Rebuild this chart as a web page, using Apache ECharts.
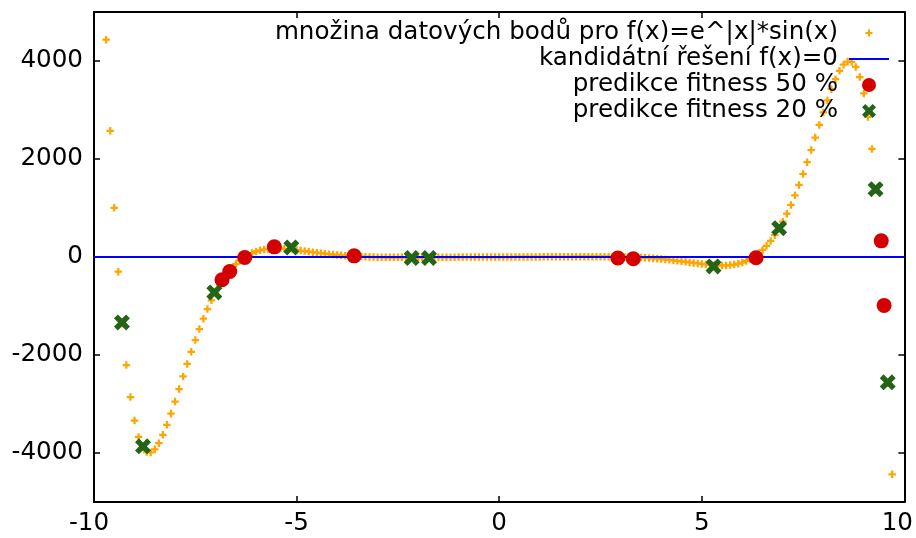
<!DOCTYPE html>
<html>
<head>
<meta charset="utf-8">
<script src="https://cdn.jsdelivr.net/npm/echarts@6/dist/echarts.min.js"></script>
<style>
  html, body { margin: 0; padding: 0; background: #ffffff; }
  #chart { width: 916px; height: 538px; }
</style>
</head>
<body>
<div id="chart"></div>
<script>
// Sampled points of f(x) = e^|x| * sin(x), step 0.1 (points beyond the y range are omitted)
const sampleX = [
  -9.7, -9.6, -9.5, -9.4, -9.3, -9.2, -9.1, -9.0, -8.9, -8.8,
  -8.7, -8.6, -8.5, -8.4, -8.3, -8.2, -8.1, -8.0, -7.9, -7.8,
  -7.7, -7.6, -7.5, -7.4, -7.3, -7.2, -7.1, -7.0, -6.9, -6.8,
  -6.7, -6.6, -6.5, -6.4, -6.3, -6.2, -6.1, -6.0, -5.9, -5.8,
  -5.7, -5.6, -5.5, -5.4, -5.3, -5.2, -5.1, -5.0, -4.9, -4.8,
  -4.7, -4.6, -4.5, -4.4, -4.3, -4.2, -4.1, -4.0, -3.9, -3.8,
  -3.7, -3.6, -3.5, -3.4, -3.3, -3.2, -3.1, -3.0, -2.9, -2.8,
  -2.7, -2.6, -2.5, -2.4, -2.3, -2.2, -2.1, -2.0, -1.9, -1.8,
  -1.7, -1.6, -1.5, -1.4, -1.3, -1.2, -1.1, -1.0, -0.9, -0.8,
  -0.7, -0.6, -0.5, -0.4, -0.3, -0.2, -0.1, 0.0,
  0.1, 0.2, 0.3, 0.4, 0.5, 0.6, 0.7, 0.8, 0.9, 1.0,
  1.1, 1.2, 1.3, 1.4, 1.5, 1.6, 1.7, 1.8, 1.9, 2.0,
  2.1, 2.2, 2.3, 2.4, 2.5, 2.6, 2.7, 2.8, 2.9, 3.0,
  3.1, 3.2, 3.3, 3.4, 3.5, 3.6, 3.7, 3.8, 3.9, 4.0,
  4.1, 4.2, 4.3, 4.4, 4.5, 4.6, 4.7, 4.8, 4.9, 5.0,
  5.1, 5.2, 5.3, 5.4, 5.5, 5.6, 5.7, 5.8, 5.9, 6.0,
  6.1, 6.2, 6.3, 6.4, 6.5, 6.6, 6.7, 6.8, 6.9, 7.0,
  7.1, 7.2, 7.3, 7.4, 7.5, 7.6, 7.7, 7.8, 7.9, 8.0,
  8.1, 8.2, 8.3, 8.4, 8.5, 8.6, 8.7, 8.8, 8.9, 9.0,
  9.1, 9.2, 9.3, 9.4, 9.5, 9.6, 9.7
];
const sampleY = [
  4435, 2574, 1005, -300, -1362, -2206, -2858, -3339, -3673, -3880,
  -3980, -3989, -3925, -3801, -3630, -3425, -3195, -2949, -2694, -2437,
  -2182, -1934, -1696, -1470, -1259, -1063, -884, -721, -574, -444,
  -329, -229, -143, -70, -9, 41, 81, 113, 137, 154,
  165, 171, 173, 171, 167, 160, 152, 142, 132, 121,
  110, 99, 88, 78, 68, 58, 49, 41, 34, 27,
  21, 16, 12, 8, 4, 1, -1, -3, -4, -6,
  -6, -7, -7, -7, -7, -7, -7, -7, -6, -6,
  -5, -5, -4, -4, -4, -3, -3, -2, -2, -2,
  -1, -1, -1, -1, 0, 0, 0, 0,
  0, 0, 0, 1, 1, 1, 1, 2, 2, 2,
  3, 3, 4, 4, 4, 5, 5, 6, 6, 7,
  7, 7, 7, 7, 7, 7, 6, 6, 4, 3,
  1, -1, -4, -8, -12, -16, -21, -27, -34, -41,
  -49, -58, -68, -78, -88, -99, -110, -121, -132, -142,
  -152, -160, -167, -171, -173, -171, -165, -154, -137, -113,
  -81, -41, 9, 70, 143, 229, 329, 444, 574, 721,
  884, 1063, 1259, 1470, 1696, 1934, 2182, 2437, 2694, 2949,
  3195, 3425, 3630, 3801, 3925, 3989, 3980, 3880, 3673, 3339,
  2858, 2206, 1362, 300, -1005, -2574, -4435
];

// Candidate solution f(x) = 0
const zeroLineX = [-10, 10];
const zeroLineY = [0, 0];

// Fitness prediction, 50 %
const fit50X = [-6.84, -6.65, -6.28, -5.55, -3.58, 2.93, 3.31, 6.34, 9.43, 9.50];
const fit50Y = [-465, -295, -10, 207, 23, -20, -35, -15, 330, -988];

// Fitness prediction, 20 %
const fit20X = [-9.31, -8.79, -7.03, -5.13, -2.16, -1.73, 5.29, 6.91, 9.29, 9.59];
const fit20Y = [-1335, -3863, -723, 195, -20, -20, -193, 588, 1384, -2558];

const xTicks = [-10, -5, 0, 5, 10];
const yTicks = [-4000, -2000, 0, 2000, 4000];

const seriesNames = [
  'množina datových bodů pro f(x)=e^|x|*sin(x)',
  'kandidátní řešení f(x)=0',
  'predikce fitness 50 %',
  'predikce fitness 20 %'
];

const FONT = 'DejaVu Sans';
const FONT_SIZE = 24.6;
const zip = (xs, ys) => xs.map((x, i) => [x, ys[i]]);

// small "+" centred in a box twice its size
const plusSymbol = 'path://M0,0L0,0M20,20L20,20M8.5,5H11.5V8.5H15V11.5H11.5V15H8.5V11.5H5V8.5H8.5Z';
// thick "x"
const crossSymbol = 'path://M2.4,0L5,2.6L7.6,0L10,2.4L7.4,5L10,7.6L7.6,10L5,7.4L2.4,10L0,7.6L2.6,5L0,2.4Z';
// plain line segment for the legend key of the zero line
const lineKey = 'path://M0,0H40V2H0Z';

const axisLineStyle = { show: true, onZero: false, lineStyle: { color: '#000', width: 2 } };
const tickStyle = { show: true, inside: true, length: 6, lineStyle: { color: '#000', width: 1.5 } };

const chart = echarts.init(document.getElementById('chart'), null, { renderer: 'canvas' });

chart.setOption({
  animation: false,
  backgroundColor: '#ffffff',
  textStyle: { fontFamily: FONT },
  grid: { left: 94, right: 11, top: 12, bottom: 36, containLabel: false },
  legend: {
    orient: 'vertical',
    right: 27,
    top: 20,
    padding: 0,
    itemGap: 0,
    itemWidth: 40,
    itemHeight: 14,
    align: 'right',
    selectedMode: false,
    data: [
      { name: seriesNames[0] },
      { name: seriesNames[1], icon: lineKey },
      { name: seriesNames[2] },
      { name: seriesNames[3] }
    ],
    textStyle: { fontFamily: FONT, fontSize: FONT_SIZE, color: '#000', lineHeight: 26, padding: [0, 6, 0, 0] }
  },
  xAxis: [
    {
      type: 'value', position: 'bottom', min: -10, max: 10, interval: 5,
      axisLine: axisLineStyle,
      axisTick: tickStyle,
      splitLine: { show: false },
      axisLabel: {
        show: true, margin: 9, color: '#000', fontFamily: FONT, fontSize: FONT_SIZE,
        customValues: xTicks,
        formatter: function (v) {
          if (v === -10) return '{lo|' + v + '}';
          if (v === 10) return '{hi|' + v + '}';
          return '{n|' + v + '}';
        },
        rich: {
          n: { fontFamily: FONT, fontSize: FONT_SIZE, color: '#000' },
          lo: { fontFamily: FONT, fontSize: FONT_SIZE, color: '#000', padding: [0, 10, 0, 0] },
          hi: { fontFamily: FONT, fontSize: FONT_SIZE, color: '#000', padding: [0, 14, 0, 0] }
        }
      }
    },
    {
      type: 'value', position: 'top', min: -10, max: 10, interval: 5,
      axisLine: axisLineStyle,
      axisTick: tickStyle,
      splitLine: { show: false },
      axisLabel: { show: false }
    }
  ],
  yAxis: [
    {
      type: 'value', position: 'left', min: -5000, max: 5000, interval: 1000,
      axisLine: axisLineStyle,
      axisTick: Object.assign({}, tickStyle, { customValues: yTicks }),
      splitLine: { show: false },
      axisLabel: {
        show: true, margin: 11, color: '#000', fontFamily: FONT, fontSize: FONT_SIZE,
        customValues: yTicks,
        formatter: function (v) { return String(v); }
      }
    },
    {
      type: 'value', position: 'right', min: -5000, max: 5000, interval: 1000,
      axisLine: axisLineStyle,
      axisTick: Object.assign({}, tickStyle, { customValues: yTicks }),
      splitLine: { show: false },
      axisLabel: { show: false }
    }
  ],
  series: [
    {
      name: seriesNames[0],
      type: 'scatter',
      data: zip(sampleX, sampleY),
      symbol: plusSymbol,
      symbolSize: 15,
      symbolKeepAspect: true,
      itemStyle: { color: '#ffa500', opacity: 1 },
      silent: true,
      z: 2
    },
    {
      name: seriesNames[1],
      type: 'line',
      data: zip(zeroLineX, zeroLineY),
      symbol: 'none',
      lineStyle: { color: '#0000ff', width: 2 },
      itemStyle: { color: '#0000ff' },
      silent: true,
      z: 3
    },
    {
      name: seriesNames[2],
      type: 'scatter',
      data: zip(fit50X, fit50Y),
      symbol: 'circle',
      symbolSize: 15,
      itemStyle: { color: '#d40000', opacity: 1 },
      silent: true,
      z: 4
    },
    {
      name: seriesNames[3],
      type: 'scatter',
      data: zip(fit20X, fit20Y),
      symbol: crossSymbol,
      symbolSize: 16,
      symbolKeepAspect: true,
      itemStyle: { color: '#236416', opacity: 1 },
      silent: true,
      z: 5
    }
  ]
});
</script>
</body>
</html>
